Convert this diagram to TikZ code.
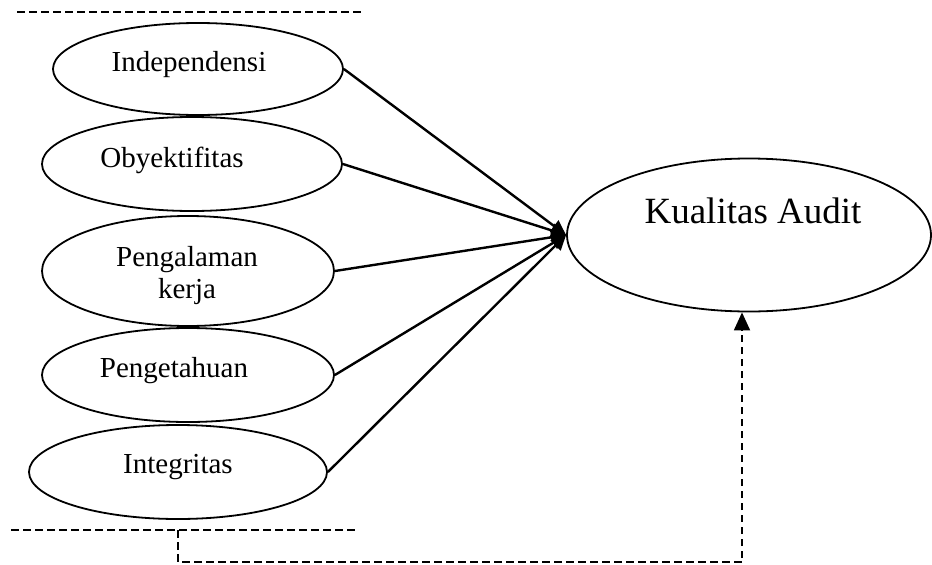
\documentclass[tikz,border=0pt]{standalone}
\usepackage{fontspec}
\setmainfont{Liberation Serif}
\usetikzlibrary{shapes.geometric,arrows.meta}
\tikzset{
  varbox/.style={draw, ellipse, line width=1.8pt, inner sep=0pt},
  lbl/.style={font=\fontsize{29}{32}\selectfont, align=center},
  effect/.style={line width=2.4pt, -{Triangle[length=15pt,width=14pt]}},
  backlink/.style={line width=1.9pt, dash pattern=on 7.5pt off 4.5pt}
}
\begin{document}
\begin{tikzpicture}[x=1pt,y=-1pt]
  \useasboundingbox (0,0) rectangle (932,565);
  % variabel bebas
  \node[varbox, minimum width=290pt, minimum height=92pt] (ind) at (198,69) {};
  \node[varbox, minimum width=300pt, minimum height=94pt] (oby) at (192,164) {};
  \node[varbox, minimum width=292pt, minimum height=110pt] (pen) at (188,271) {};
  \node[varbox, minimum width=292pt, minimum height=94pt] (pgt) at (188,375) {};
  \node[varbox, minimum width=298pt, minimum height=94pt] (int) at (178,472) {};
  \node[lbl, anchor=base] (indtxt) at (189,71) {Independensi};
  \node[lbl, anchor=base] (obytxt) at (172,167) {Obyektifitas};
  \node[lbl] (pentxt) at (187,276) {Pengalaman\\kerja};
  \node[lbl, anchor=base] (pgttxt) at (174,377) {Pengetahuan};
  \node[lbl, anchor=base] (inttxt) at (178,473) {Integritas};
  % variabel terikat
  \node[varbox, minimum width=364pt, minimum height=153pt] (kual) at (749,235) {};
  \node[font=\fontsize{37}{40}\selectfont, anchor=base] (kualtxt) at (753,223) {Kualitas Audit};
  \foreach \v in {ind, oby, pen, pgt, int}
    \draw[effect] (\v.east) -- (kual.west);
  % garis putus-putus
  \draw[backlink] (17,12) -- (362,12);
  \draw[backlink] (11,530) -- (355,530);
  \coordinate (fb) at (178,530);
  \draw[backlink, -{Triangle[length=18pt,width=16pt]}] (fb) -- ++(0,32) -| ([xshift=-7pt]kual.south);
\end{tikzpicture}
\end{document}
